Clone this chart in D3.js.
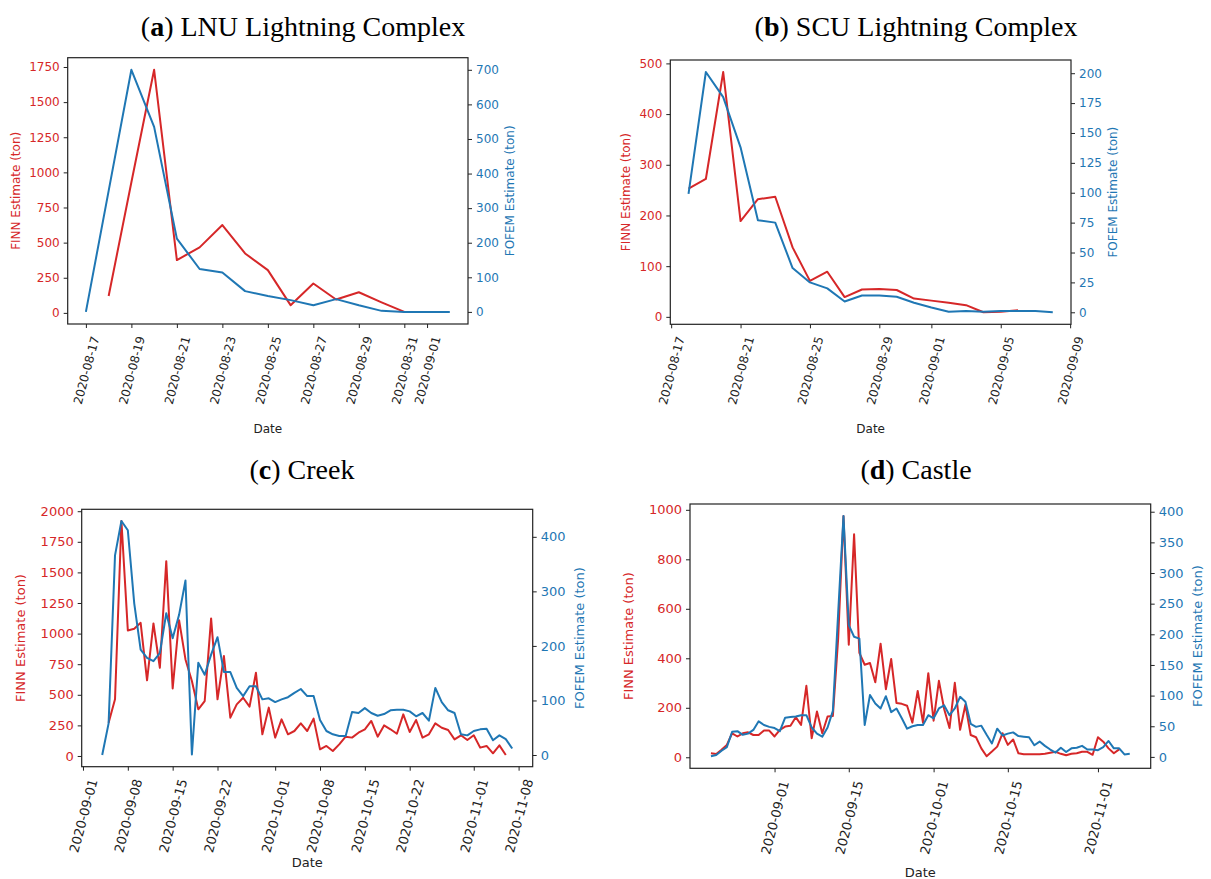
<!DOCTYPE html>
<html>
<head>
<meta charset="utf-8">
<script src="https://cdn.jsdelivr.net/npm/d3@7"></script>
<style>
  body { margin: 0; background: #fff; }
  svg { display: block; }
</style>
</head>
<body>
<script>
(function () {
    // daily values, each series starts at its own date
    const lnuFinnStart = "2020-08-18";
    const lnuFinn = [120, 930, 1730, 376, 466, 625, 423, 304, 55, 209, 95, 147, 75, 7];
    const lnuFofemStart = "2020-08-17";
    const lnuFofem = [0, 350, 700, 535, 212, 124, 114, 60, 46, 34, 19, 37, 19, 3, 0, 0, 0];

    const scuFinnStart = "2020-08-18";
    const scuFinn = [253, 272, 483, 189, 232, 237, 137, 71, 89, 39, 54, 55, 53, 36, 32, 28, 23, 9, 10, 13];
    const scuFofemStart = "2020-08-18";
    const scuFofem = [99, 201, 180, 138, 77, 75, 37, 25, 20, 9, 14, 14, 13, 8, 4, 0.5, 1, 0.5, 1, 1, 1, 0];

    const creekFinnStart = "2020-09-05";
    const creekFinn = [272, 463, 1920, 1026, 1040, 1088, 618, 1083, 721,
        1592, 552, 1110, 789, 612, 381, 449, 1124, 463, 816,
        313, 422, 476, 403, 680, 177, 395, 150, 299, 177,
        204, 267, 204, 305, 54, 82, 41, 95, 158, 150,
        190, 218, 286, 158, 250, 218, 182, 340, 196, 294,
        150, 177, 267, 231, 212, 136, 169, 131, 169, 68,
        82, 22, 87, 8];
    const creekFofemStart = "2020-09-04";
    const creekFofem = [0, 58, 366, 429, 412, 278, 193, 178, 172, 187,
        260, 214, 257, 320, 1, 169, 147, 184, 216, 152,
        152, 123, 108, 126, 126, 102, 104, 97, 102, 106,
        114, 121, 108, 108, 64, 44, 38, 35, 35, 79,
        77, 86, 77, 72, 75, 82, 83, 83, 80, 71,
        77, 63, 123, 97, 82, 77, 38, 36, 44, 47,
        48, 27, 36, 29, 12];

    const castleFinnStart = "2020-08-20";
    const castleFinn = [16, 13, 30, 50, 97, 84, 97, 101, 90, 90, 108, 108,
        84, 111, 124, 127, 162, 131, 289, 77, 185, 97,
        165, 167, 480, 975, 455, 901, 422, 374, 381, 303,
        459, 275, 397, 219, 216, 208, 140, 268, 140, 340,
        148, 309, 194, 118, 301, 111, 212, 90, 81, 36,
        4, 23, 43, 97, 50, 72, 16, 12, 12, 12,
        12, 14, 18, 22, 14, 8, 14, 16, 22, 22,
        10, 81, 63, 36, 16, 32];
    const castleFofemStart = "2020-08-20";
    const castleFofem = [1, 3, 10, 16, 41, 42, 36, 38, 44, 58, 52, 49,
        47, 42, 64, 65, 66, 68, 68, 48, 38, 33,
        48, 75, 235, 393, 215, 196, 193, 52, 101, 87,
        79, 99, 73, 79, 63, 46, 50, 52, 52, 68,
        63, 79, 84, 68, 79, 98, 90, 54, 49, 51,
        36, 22, 46, 35, 38, 40, 34, 33, 32, 19,
        25, 18, 12, 7, 15, 8, 14, 15, 18, 12,
        12, 11, 16, 26, 14, 14, 4, 5];

    // tick labels
    const lnuDateTicks = ["2020-08-17", "2020-08-19", "2020-08-21", "2020-08-23", "2020-08-25",
        "2020-08-27", "2020-08-29", "2020-08-31", "2020-09-01"];
    const scuDateTicks = ["2020-08-17", "2020-08-21", "2020-08-25", "2020-08-29",
        "2020-09-01", "2020-09-05", "2020-09-09"];
    const creekDateTicks = ["2020-09-01", "2020-09-08", "2020-09-15", "2020-09-22", "2020-10-01",
        "2020-10-08", "2020-10-15", "2020-10-22", "2020-11-01", "2020-11-08"];
    const castleDateTicks = ["2020-09-01", "2020-09-15", "2020-10-01", "2020-10-15", "2020-11-01"];

    const lnuFinnTicks = [0, 250, 500, 750, 1000, 1250, 1500, 1750];
    const lnuFofemTicks = [0, 100, 200, 300, 400, 500, 600, 700];
    const scuFinnTicks = [0, 100, 200, 300, 400, 500];
    const scuFofemTicks = [0, 25, 50, 75, 100, 125, 150, 175, 200];
    const creekFinnTicks = [0, 250, 500, 750, 1000, 1250, 1500, 1750, 2000];
    const creekFofemTicks = [0, 100, 200, 300, 400];
    const castleFinnTicks = [0, 200, 400, 600, 800, 1000];
    const castleFofemTicks = [0, 50, 100, 150, 200, 250, 300, 350, 400];

    const RED = "#d62728", BLUE = "#1f77b4";
    const width = 1211, height = 879;

    const parse = d3.utcParse("%Y-%m-%d");
    const fmt = d3.utcFormat("%Y-%m-%d");
    const num = d3.format("d");

    function series(start, values) {
        const t0 = parse(start);
        return values.map((v, i) => ({ date: d3.utcDay.offset(t0, i), value: v }));
    }

    // matplotlib style 5% margins
    function padded(ext) {
        const p = (ext[1] - ext[0]) * 0.05;
        return [ext[0] - p, ext[1] + p];
    }

    const svg = d3.select("body").append("svg")
        .attr("width", width).attr("height", height);
    svg.append("rect").attr("width", width).attr("height", height).attr("fill", "#fff");

    function panel(o) {
        const finn = series(o.finnStart, o.finn);
        const fofem = series(o.fofemStart, o.fofem);
        const fs = o.fontSize;

        const tExt = d3.extent(finn.concat(fofem), d => +d.date);
        const x = d3.scaleUtc()
            .domain(padded(tExt).map(t => new Date(t)))
            .range([o.x0, o.x1]);
        const yL = d3.scaleLinear().domain(padded(d3.extent(o.finn))).range([o.y1, o.y0]);
        const yR = d3.scaleLinear().domain(padded(d3.extent(o.fofem))).range([o.y1, o.y0]);

        const g = svg.append("g");

        // title
        const title = g.append("text")
            .attr("x", o.titleX).attr("y", o.titleY)
            .attr("text-anchor", "middle")
            .style("font-family", "'Liberation Serif', 'DejaVu Serif', serif")
            .style("font-size", "28px")
            .attr("fill", "#000");
        title.append("tspan").text("(");
        title.append("tspan").style("font-weight", "bold").text(o.letter);
        title.append("tspan").text(") " + o.title);

        // lines
        const lineL = d3.line().x(d => x(d.date)).y(d => yL(d.value));
        const lineR = d3.line().x(d => x(d.date)).y(d => yR(d.value));
        g.append("path").datum(finn).attr("d", lineL)
            .attr("fill", "none").attr("stroke", RED).attr("stroke-width", 2)
            .attr("stroke-linejoin", "round");
        g.append("path").datum(fofem).attr("d", lineR)
            .attr("fill", "none").attr("stroke", BLUE).attr("stroke-width", 2)
            .attr("stroke-linejoin", "round");

        // frame
        g.append("rect")
            .attr("x", o.x0).attr("y", o.y0)
            .attr("width", o.x1 - o.x0).attr("height", o.y1 - o.y0)
            .attr("fill", "none").attr("stroke", "#222").attr("stroke-width", 1.2);

        const font = "'DejaVu Sans', sans-serif";

        // left axis
        const ax = g.append("g").attr("transform", `translate(${o.x0},0)`)
            .call(d3.axisLeft(yL).tickValues(o.finnTicks).tickFormat(num).tickSize(4).tickPadding(4))
            .call(s => s.select(".domain").remove());
        ax.selectAll("text").attr("fill", RED).style("font-family", font).style("font-size", fs + "px");
        ax.selectAll("line").attr("stroke", "#222");

        // right axis
        const ar = g.append("g").attr("transform", `translate(${o.x1},0)`)
            .call(d3.axisRight(yR).tickValues(o.fofemTicks).tickFormat(num).tickSize(4).tickPadding(4))
            .call(s => s.select(".domain").remove());
        ar.selectAll("text").attr("fill", BLUE).style("font-family", font).style("font-size", fs + "px");
        ar.selectAll("line").attr("stroke", "#222");

        // bottom axis, labels rotated 75 degrees, bbox centred on the tick
        const ab = g.append("g").attr("transform", `translate(0,${o.y1})`)
            .call(d3.axisBottom(x).tickValues(o.dateTicks.map(parse)).tickFormat(fmt).tickSize(4))
            .call(s => s.select(".domain").remove());
        ab.selectAll("line").attr("stroke", "#222");
        const a = 75 * Math.PI / 180;
        ab.selectAll("text")
            .attr("fill", "#222")
            .style("font-family", font).style("font-size", fs + "px")
            .attr("text-anchor", "middle")
            .attr("y", 0).attr("dy", "0.35em")
            .attr("transform", function () {
                const L = this.getComputedTextLength();
                const hb = L * Math.sin(a) + fs * Math.cos(a);
                return `translate(0,${11 + hb / 2}) rotate(-75)`;
            });

        // axis titles
        g.append("text")
            .attr("transform", `translate(${o.x0 - o.leftOff},${(o.y0 + o.y1) / 2}) rotate(-90)`)
            .attr("text-anchor", "middle").attr("dy", "0.35em")
            .attr("fill", RED).style("font-family", font).style("font-size", fs + "px")
            .text("FINN Estimate (ton)");
        g.append("text")
            .attr("transform", `translate(${o.x1 + o.rightOff},${(o.y0 + o.y1) / 2}) rotate(-90)`)
            .attr("text-anchor", "middle").attr("dy", "0.35em")
            .attr("fill", BLUE).style("font-family", font).style("font-size", fs + "px")
            .text("FOFEM Estimate (ton)");
        g.append("text")
            .attr("x", (o.x0 + o.x1) / 2).attr("y", o.dateY)
            .attr("text-anchor", "middle")
            .attr("fill", "#222").style("font-family", font).style("font-size", fs + "px")
            .text("Date");
    }

    panel({
        letter: "a", title: "LNU Lightning Complex", titleX: 303, titleY: 36,
        finnStart: lnuFinnStart, finn: lnuFinn, fofemStart: lnuFofemStart, fofem: lnuFofem,
        dateTicks: lnuDateTicks, finnTicks: lnuFinnTicks, fofemTicks: lnuFofemTicks,
        x0: 67.7, x1: 468, y0: 57.7, y1: 324, fontSize: 12,
        leftOff: 52, rightOff: 42, dateY: 433
    });
    panel({
        letter: "b", title: "SCU Lightning Complex", titleX: 916, titleY: 36,
        finnStart: scuFinnStart, finn: scuFinn, fofemStart: scuFofemStart, fofem: scuFofem,
        dateTicks: scuDateTicks, finnTicks: scuFinnTicks, fofemTicks: scuFofemTicks,
        x0: 670.3, x1: 1071, y0: 60, y1: 324.3, fontSize: 12,
        leftOff: 45, rightOff: 42, dateY: 433
    });
    panel({
        letter: "c", title: "Creek", titleX: 302, titleY: 479,
        finnStart: creekFinnStart, finn: creekFinn, fofemStart: creekFofemStart, fofem: creekFofem,
        dateTicks: creekDateTicks, finnTicks: creekFinnTicks, fofemTicks: creekFofemTicks,
        x0: 81.7, x1: 532.7, y0: 509.3, y1: 766.7, fontSize: 13,
        leftOff: 61, rightOff: 47, dateY: 867
    });
    panel({
        letter: "d", title: "Castle", titleX: 916, titleY: 479,
        finnStart: castleFinnStart, finn: castleFinn, fofemStart: castleFofemStart, fofem: castleFofem,
        dateTicks: castleDateTicks, finnTicks: castleFinnTicks, fofemTicks: castleFofemTicks,
        x0: 690, x1: 1150.7, y0: 504, y1: 768.3, fontSize: 13,
        leftOff: 62, rightOff: 47, dateY: 877
    });
})();
</script>
</body>
</html>
